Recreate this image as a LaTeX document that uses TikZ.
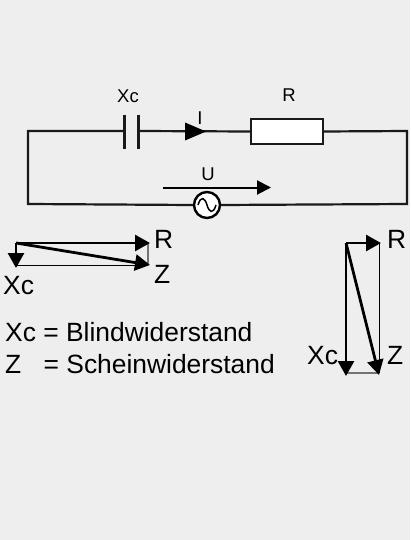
\documentclass[tikz,border=0pt]{standalone}
\usepackage{fontspec}
\setmainfont{Liberation Sans}
\usetikzlibrary{arrows.meta}
\definecolor{bg}{HTML}{EEEEEE}
\definecolor{wirec}{HTML}{1A1A1A}
\tikzset{
  wire/.style={line width=2.2pt,draw=wirec},
  vec/.style={line width=2.8pt,draw=black,-{Triangle[length=15pt,width=16pt]}},
  thin line/.style={line width=1pt,draw=black},
  gray line/.style={line width=1.4pt,draw=black!55},
  big/.style={font=\fontsize{26.4}{30}\selectfont,inner sep=0pt,anchor=base west},
  small/.style={font=\fontsize{18.5}{22}\selectfont,inner sep=0pt,anchor=base},
}
\begin{document}
\begin{tikzpicture}[x=1pt,y=-1pt]
\useasboundingbox[fill=bg] (0,0) rectangle (410,540);
% circuit nodes
\coordinate (tl) at (28,131);
\coordinate (bl) at (28,204);
\coordinate (br) at (407,204);
\coordinate (tr) at (407,131);
\coordinate (capL) at (124.5,131);
\coordinate (capR) at (138.5,131);
\coordinate (capLt) at (124.5,115);
\coordinate (capLb) at (124.5,149);
\coordinate (capRt) at (138.5,115);
\coordinate (capRb) at (138.5,149);
\coordinate (iS) at (185,131.5);
\coordinate (iE) at (206,131.5);
\node[draw=wirec,line width=2.2pt,fill=white,minimum width=72pt,minimum height=25pt,inner sep=0pt] (res) at (287,131.5) {};
\node[draw=black,line width=2.4pt,fill=white,circle,minimum size=26pt,inner sep=0pt] (src) at (207,205) {};
\draw[wire] (capL) -- (tl) -- (bl) -- (src.west);
\draw[wire] (src.east) -- (br) -- (tr) -- (res.east);
\draw[wire] (capR) -- (res.west);
\draw[wire] (capLt) -- (capLb);
\draw[wire] (capRt) -- (capRb);
\fill[black] (iS) ++(0,-9) -- (iE) -- (185,140.5) -- cycle;
\draw[black,line width=1.5pt] (198,205) .. controls (201,195) and (205,198) .. (207,205) .. controls (209,212) and (213,215) .. (216,205);
\coordinate (uS) at (163,187.5);
\coordinate (uE) at (271,187.5);
\draw[line width=2pt,-{Triangle[length=14pt,width=14pt]}] (uS) -- (uE);
\node[small] (lXc) at (128,103) {Xc};
\node[small] (lR) at (289,102) {R};
\node[small] (lI) at (200,125) {I};
\node[small] (lU) at (208,180) {U};
% left phasor
\coordinate (a) at (16,243);
\coordinate (aR) at (150,243);
\coordinate (aZ) at (150,265);
\coordinate (aX) at (16,268);
\coordinate (aX2) at (16,265);
\coordinate (aR2) at (148,243);
\coordinate (aZ2) at (148,265);
\draw[thin line] (aX2) -- (aZ2);
\draw[gray line] (aR2) -- (aZ2);
\draw[vec] (a) -- (aR);
\draw[vec] (a) -- (aZ);
\draw[vec] (a) -- (aX);
\node[big] (l1) at (154,248) {R};
\node[big] (l2) at (154,283) {Z};
\node[big] (l3) at (3,294) {Xc};
\node[big] (l4) at (5,341) {Xc = Blindwiderstand};
\node[big] (l5) at (5,373) {Z\hspace{15pt} = Scheinwiderstand};
% right phasor
\coordinate (b) at (346,243);
\coordinate (bR) at (381,243);
\coordinate (bX) at (346,376);
\coordinate (bZ) at (379,375);
\coordinate (bR2) at (379,243);
\coordinate (bZ2) at (379,373);
\coordinate (bX2) at (346,373);
\draw[thin line] (bR2) -- (bZ2);
\draw[gray line] (bX2) -- (bZ2);
\draw[vec] (b) -- (bR);
\draw[vec] (b) -- (bX);
\draw[vec] (b) -- (bZ);
\node[big] (r1) at (387,248) {R};
\node[big] (r2) at (387,364) {Z};
\node[big] (r3) at (307,364) {Xc};
\end{tikzpicture}
\end{document}
